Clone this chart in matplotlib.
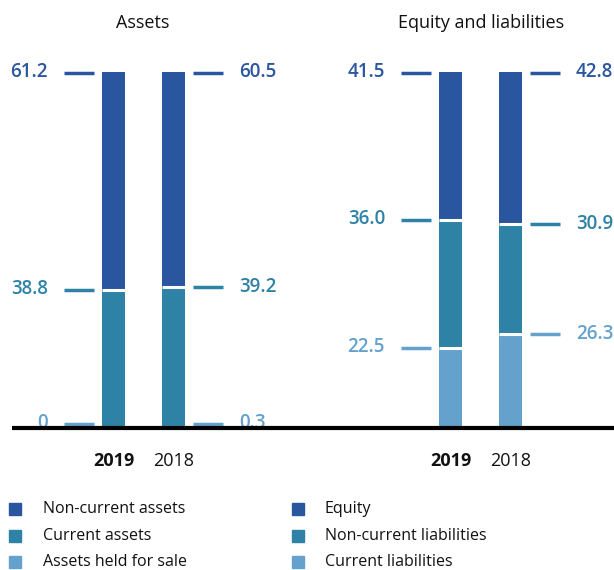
import matplotlib
matplotlib.use("Agg")
import matplotlib.pyplot as plt
from matplotlib.patches import Rectangle

plt.rcParams['font.family'] = ['Open Sans', 'DejaVu Sans']

# ---- data (percent of balance sheet total) ----
years = ["2019", "2018"]
asset_labels = ["Assets held for sale", "Current assets", "Non-current assets"]
assets_2019 = [0.0, 38.8, 61.2]
assets_2018 = [0.3, 39.2, 60.5]
eqliab_labels = ["Current liabilities", "Non-current liabilities", "Equity"]
eqliab_2019 = [22.5, 36.0, 41.5]
eqliab_2018 = [26.3, 30.9, 42.8]
panel_titles = ["Assets", "Equity and liabilities"]

colors = ["#64a2cd", "#2e82a6", "#2a56a0"]  # bottom -> top

W, H = 614, 570
fig = plt.figure(figsize=(W / 100, H / 100), dpi=100)
y_base, y_top = 428, 72
ax = fig.add_axes([0, (H - y_base) / H, 1, (y_base - y_top) / H])
ax.set_xlim(0, W)
ax.set_ylim(0, 100)
ax.axis("off")

bar_w = 23
panels = [
    (113.5, 173.5, assets_2019, assets_2018, asset_labels),
    (450.5, 510.5, eqliab_2019, eqliab_2018, eqliab_labels),
]

def fmt(v):
    return "0" if v == 0 else f"{v:.1f}"

for (x19, x18, v19, v18, labs) in panels:
    for xc, vals, side in ((x19, v19, "left"), (x18, v18, "right")):
        bottom = 0.0
        for i, v in enumerate(vals):
            if v > 0:
                ax.bar(xc, v, width=bar_w, bottom=bottom, color=colors[i], linewidth=0)
            if bottom > 0:
                ax.plot([xc - bar_w / 2, xc + bar_w / 2], [bottom, bottom],
                        color="white", lw=2.2, solid_capstyle="butt", zorder=3)
            ytop = bottom + v
            yl = ytop - 0.3 if i == len(vals) - 1 else ytop
            if i == 0:
                yl = max(ytop, 1.2)
            if side == "left":
                x0 = xc - bar_w / 2 - 8
                ax.plot([x0 - 30, x0], [yl, yl], color=colors[i], lw=2.5,
                        solid_capstyle="butt", clip_on=False)
                ax.text(x0 - 46, yl + 0.2, fmt(v), ha="right", va="center",
                        color=colors[i], fontsize=13.5, fontweight="semibold")
            else:
                x0 = xc + bar_w / 2 + 8
                ax.plot([x0, x0 + 30], [yl, yl], color=colors[i], lw=2.5,
                        solid_capstyle="butt", clip_on=False)
                ax.text(x0 + 46, yl + 0.2, fmt(v), ha="left", va="center",
                        color=colors[i], fontsize=13.5, fontweight="semibold")
            bottom += v
    ax.text(x19, -9.4, years[0], ha="center", va="center", fontsize=13,
            fontweight="bold", color="#111111", clip_on=False)
    ax.text(x18, -9.4, years[1], ha="center", va="center", fontsize=13,
            color="#111111", clip_on=False)

# baseline
ax.plot([12, W], [0, 0], color="black", lw=3, solid_capstyle="butt", clip_on=False, zorder=5)

# titles
fig.text(143 / W, 1 - 23 / H, panel_titles[0], ha="center", va="center", fontsize=13, color="#111111")
fig.text(481 / W, 1 - 23 / H, panel_titles[1], ha="center", va="center", fontsize=13, color="#111111")

# legend
rows_y = [509, 536, 562]
for col, (sx, tx, labs) in enumerate(((15, 43, asset_labels), (298, 325, eqliab_labels))):
    for r in range(3):
        ci = 2 - r
        yc = rows_y[r]
        fig.patches.append(Rectangle(((sx - 6) / W, 1 - (yc + 6) / H), 12 / W, 12 / H,
                                     transform=fig.transFigure, color=colors[ci]))
        fig.text(tx / W, 1 - yc / H, labs[ci], ha="left", va="center",
                 fontsize=11.5, color="#111111")

fig.savefig("out.png", dpi=100, facecolor="white")
